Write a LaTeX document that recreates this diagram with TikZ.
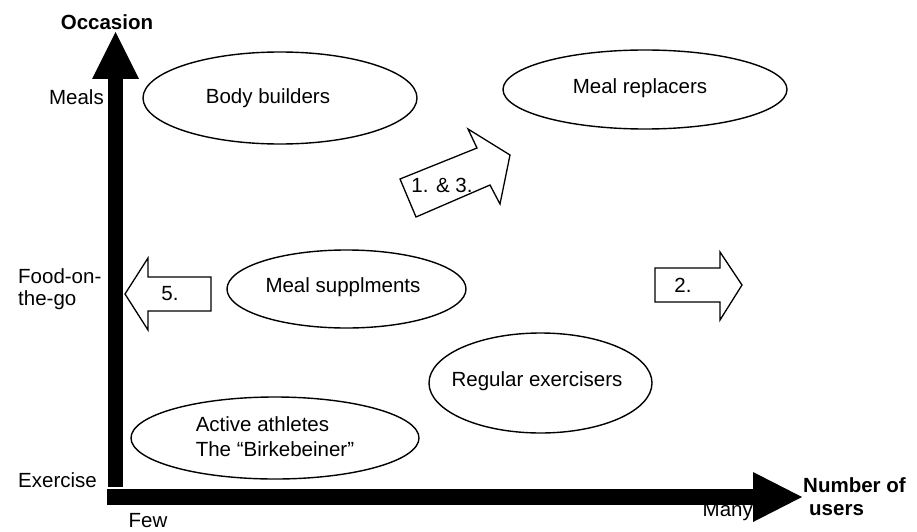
\documentclass[tikz,border=0pt]{standalone}
\usepackage{fontspec}
\setmainfont{Liberation Sans}
\usepackage{tikz}
\usetikzlibrary{shapes}

\tikzset{
  bubble/.style={draw, ellipse, line width=1.4pt, inner sep=0pt},
  lbl/.style={inner sep=0pt, font=\fontsize{20.5}{25}\selectfont},
  boldlbl/.style={lbl, font=\fontsize{20.5}{23}\selectfont\bfseries},
  blockarrow/.style={draw, line width=1.3pt, line join=miter, fill=white}
}

\begin{document}
\begin{tikzpicture}[x=1pt,y=-1pt]
          \useasboundingbox (0,0) rectangle (917,532);
          \fill (108,487) rectangle (123,79);
          \fill (92,79) -- (139,79) -- (115.5,32) -- cycle;
          \fill (107,489) rectangle (753,505);
          \fill (753,472) -- (753,522) -- (802,497) -- cycle;
          \node[boldlbl] (occasion) at (107,22) {Occasion};
          \node[boldlbl, anchor=west, align=left] (users) at (803,497) {Number of\\\hspace{6pt}users};
          \node[lbl, anchor=east] (meals) at (104,97) {Meals};
          \node[lbl, anchor=west, align=left, font=\fontsize{20.5}{22}\selectfont] (food) at (18,289) {Food-on-\\the-go};
          \node[lbl, anchor=west] (exercise) at (18,480) {Exercise};
          \node[lbl] (few) at (148,521) {Few};
          \node[lbl, anchor=east] (many) at (753,512) {Many};
          \node[bubble, minimum width=274pt, minimum height=92pt] (body) at (280,98) {};
          \node[lbl] (bodytext) at (268,98) {Body builders};
          \node[bubble, minimum width=284pt, minimum height=79pt] (replace) at (645,89.5) {};
          \node[lbl] (replacetext) at (640,88) {Meal replacers};
          \node[bubble, minimum width=239pt, minimum height=78pt] (suppl) at (346.5,289) {};
          \node[lbl] (suppltext) at (343,287) {Meal supplments};
          \node[bubble, minimum width=223pt, minimum height=100pt] (regular) at (540.5,383) {};
          \node[lbl] (regulartext) at (537,381) {Regular exercisers};
          \node[bubble, minimum width=288pt, minimum height=82pt] (active) at (275,438) {};
          \node[lbl, align=left] (activetext) at (275,437) {Active athletes\\The ``Birkebeiner''};
          \draw[blockarrow] (416,217) -- (400,179) -- (477,148) -- (468,129) -- (510,155) -- (500,204) -- (490,185) -- cycle;
          \node[lbl] (onethree) at (442,185) {1. \& 3.};
          \draw[blockarrow] (125,294) -- (148,258) -- (148,277) -- (211,277) -- (211,311) -- (148,311) -- (148,330) -- cycle;
          \node[lbl] (five) at (170,294) {5.};
          \draw[blockarrow] (655,268) -- (720,268) -- (720,252) -- (742,285) -- (720,320) -- (720,302) -- (655,302) -- cycle;
          \node[lbl] (two) at (683,285) {2.};
        \end{tikzpicture}
\end{document}
